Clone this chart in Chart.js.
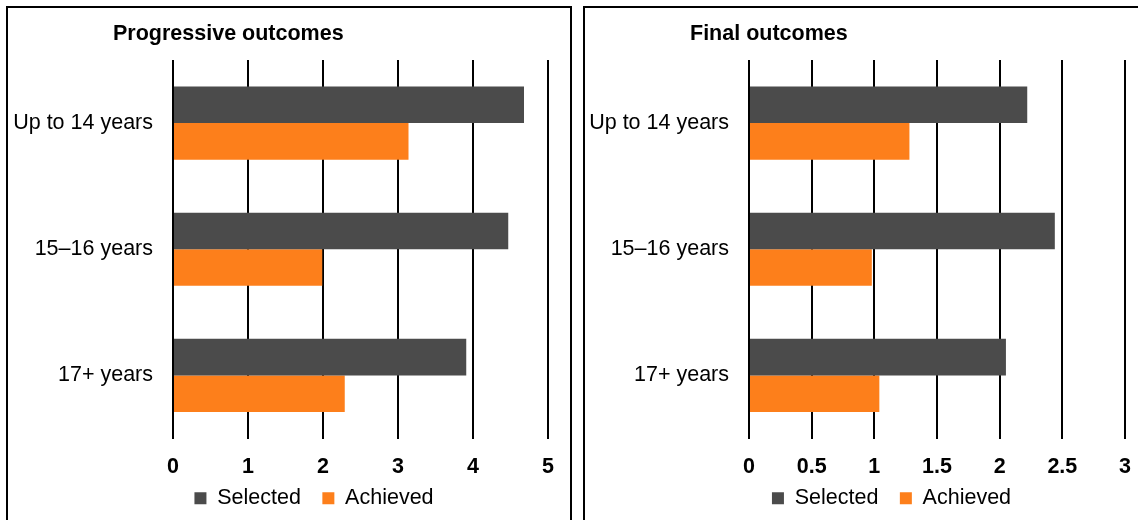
<!DOCTYPE html>
<html><head><meta charset="utf-8">
<script src="https://cdn.jsdelivr.net/npm/chart.js@4.4.1/dist/chart.umd.min.js"></script>
<style>
html,body{margin:0;padding:0;width:1138px;height:520px;overflow:hidden;background:#fff;}
.panel{position:absolute;top:6px;height:600px;border:2px solid #000;box-sizing:border-box;}
canvas{position:absolute;top:8px;}
</style></head><body>
<div class="panel" style="left:6px;width:566px"></div>
<div class="panel" style="left:583px;width:700px"></div>
<canvas id="c1" width="612" height="511" style="left:8px"></canvas>
<canvas id="c2" width="613" height="511" style="left:585px"></canvas>
<script>
const categories = ['Up to 14 years', '15\u201316 years', '17+ years'];
const seriesNames = ['Selected', 'Achieved'];
const progressiveSelected = [4.68, 4.47, 3.91];
const progressiveAchieved = [3.14, 1.99, 2.29];
const finalSelected = [2.22, 2.44, 2.05];
const finalAchieved = [1.28, 0.98, 1.04];
const progressiveTicks = [0, 1, 2, 3, 4, 5];
const finalTicks = [0, 0.5, 1, 1.5, 2, 2.5, 3];

const FONT = '"Liberation Sans", Arial, sans-serif';
const COLORS = ['#4b4b4b', '#fd7f1b'];

const panelTitle = {
  id: 'panelTitle',
  afterDraw(chart, args, opts) {
    const ctx = chart.ctx;
    ctx.save();
    ctx.font = 'bold 21.5px ' + FONT;
    ctx.fillStyle = '#000';
    ctx.textBaseline = 'middle';
    ctx.textAlign = 'left';
    ctx.fillText(opts.text, opts.x, opts.y);
    ctx.restore();
  }
};

function makeChart(id, title, selected, achieved, ticks, yWidth, rightWidth) {
  return new Chart(document.getElementById(id), {
    type: 'bar',
    plugins: [panelTitle],
    data: {
      labels: categories,
      datasets: [
        { label: seriesNames[0], data: selected, backgroundColor: COLORS[0], borderWidth: 0 },
        { label: seriesNames[1], data: achieved, backgroundColor: COLORS[1], borderWidth: 0 }
      ]
    },
    options: {
      indexAxis: 'y',
      responsive: false,
      animation: false,
      devicePixelRatio: 1,
      datasets: { bar: { categoryPercentage: 0.58, barPercentage: 1.0 } },
      layout: { padding: { top: 52, left: 0, right: 0, bottom: 0 } },
      scales: {
        x: {
          min: ticks[0], max: ticks[ticks.length - 1],
          afterBuildTicks: s => { s.ticks = ticks.map(v => ({ value: v })); },
          ticks: { color: '#000', font: { family: FONT, size: 21.5, weight: 'bold' }, padding: 15.5, maxRotation: 0, autoSkip: false, callback: v => String(v) },
          grid: { color: '#000', lineWidth: 2, drawTicks: false },
          border: { display: false },
          afterFit: s => { s.height = 27.5; s._computeLabelArea = () => undefined; }
        },
        y: {
          ticks: { color: '#000', font: { family: FONT, size: 21.5 }, padding: 20 },
          grid: { display: false, drawTicks: false },
          border: { display: false },
          afterFit: s => { s.width = yWidth; }
        },
        y2: {
          type: 'linear', position: 'right',
          ticks: { display: false },
          grid: { display: false, drawTicks: false },
          border: { display: false },
          afterFit: s => { s.width = rightWidth; }
        }
      },
      plugins: {
        panelTitle: { text: title, x: 105, y: 26 },
        tooltip: { enabled: false },
        legend: {
          position: 'bottom',
          labels: { color: '#000', boxWidth: 12, boxHeight: 12, padding: 21.5, font: { family: FONT, size: 21.5 } }
        }
      }
    }
  });
}

makeChart('c1', 'Progressive outcomes', progressiveSelected, progressiveAchieved, progressiveTicks, 165, 72);
makeChart('c2', 'Final outcomes', finalSelected, finalAchieved, finalTicks, 164, 73);
</script>
</body></html>
